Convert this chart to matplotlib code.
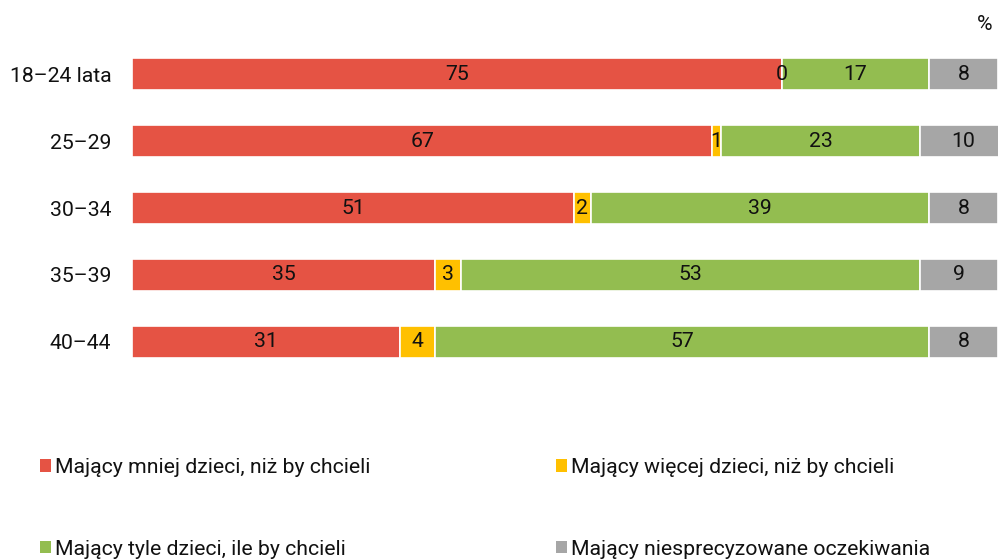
import matplotlib.pyplot as plt
from matplotlib.patches import Patch

plt.rcParams['font.family'] = ['Roboto', 'DejaVu Sans']
plt.rcParams['font.size'] = 15.3

# data
age_groups = ['18–24 lata', '25–29', '30–34', '35–39', '40–44']
fewer = [75, 67, 51, 35, 31]
more = [0, 1, 2, 3, 4]
same = [17, 23, 39, 53, 57]
unspecified = [8, 10, 8, 9, 8]

series_names = [
    'Mający mniej dzieci, niż by chcieli',
    'Mający więcej dzieci, niż by chcieli',
    'Mający tyle dzieci, ile by chcieli',
    'Mający niesprecyzowane oczekiwania',
]
colors = ['#E55344', '#FFC000', '#93BD50', '#A6A6A6']

W, H = 998, 559
fig = plt.figure(figsize=(W / 100, H / 100), dpi=100)
# axis runs a bit past the right edge of the image, like the original
ax = fig.add_axes([132 / W, 1 - 375 / H, 866 * 1.01 / W, 334 / H])

series = [fewer, more, same, unspecified]
left = [0] * len(age_groups)
for vals, col in zip(series, colors):
    ax.barh(range(len(age_groups)), vals, left=left, height=0.48,
            color=col, edgecolor='white', linewidth=1.2)
    for i, v in enumerate(vals):
        ax.text(left[i] + v / 2, i, str(v), ha='center', va='center',
                color='#111111')
    left = [l + v for l, v in zip(left, vals)]

ax.set_xlim(0, 101)
ax.set_ylim(len(age_groups) - 0.5, -0.5)
ax.set_yticks(range(len(age_groups)))
ax.set_yticklabels(age_groups, color='#111111')
ax.tick_params(axis='y', length=0, pad=15)
ax.set_xticks([])
for s in ax.spines.values():
    s.set_visible(False)

fig.text(985 / W, 1 - 25 / H, '%', ha='center', va='center', color='#111111')

order = [0, 2, 1, 3]
handles = [Patch(facecolor=colors[k], edgecolor='none') for k in order]
labels = [series_names[k] for k in order]
fig.legend(handles, labels, ncol=2, loc='upper left',
           bbox_to_anchor=(40 / W, 1 - 458 / H), frameon=False,
           handlelength=0.5, handleheight=0.5, handletextpad=0.2,
           columnspacing=8.75, labelspacing=2.95, borderpad=0, borderaxespad=0,
           labelcolor='#111111')

fig.savefig('out.png', dpi=100)
